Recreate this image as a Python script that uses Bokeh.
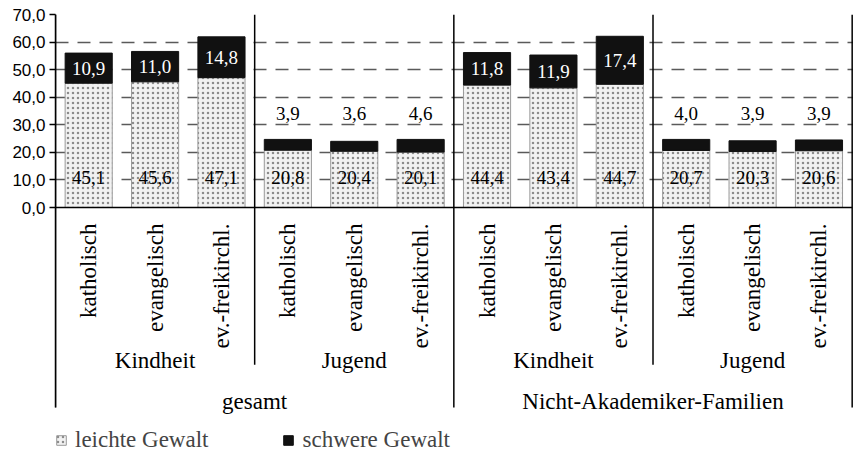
import numpy as np
from bokeh.plotting import figure
from bokeh.models import ColumnDataSource, FixedTicker, Legend, LegendItem
from bokeh.core.properties import value
from bokeh.embed import file_html
from bokeh.resources import INLINE

# ---------------- data ----------------
religion = ["katholisch", "evangelisch", "ev.-freikirchl."]
phases = ["Kindheit", "Jugend"]
samples = ["gesamt", "Nicht-Akademiker-Familien"]
leichte = [45.1, 45.6, 47.1, 20.8, 20.4, 20.1, 44.4, 43.4, 44.7, 20.7, 20.3, 20.6]
schwere = [10.9, 11.0, 14.8, 3.9, 3.6, 4.6, 11.8, 11.9, 17.4, 4.0, 3.9, 3.9]
y_ticks = [0, 10, 20, 30, 40, 50, 60, 70]
series = ["leichte Gewalt", "schwere Gewalt"]

# ---------------- layout helpers ----------------
SERIF = value("Liberation Serif")
n = len(leichte)
nr = len(religion)
n_ph = len(phases)
x = np.arange(n) + 0.5
fmt = lambda v: f"{v:.1f}".replace(".", ",")
lei = np.array(leichte)
sch = np.array(schwere)
total = lei + sch
big = sch >= 6

Y_LABEL_LOW = 11
Y_SMALL_TOP = 34
Y_CAT = -5.8
Y_PHASE = -55.5
Y_SAMPLE = -70.2
Y_INNER_END = -57.0
Y_OUTER_END = -72.5

src = ColumnDataSource(dict(
    x=x, lei=lei, tot=total,
    cat=[religion[i % nr] for i in range(n)],
    lab_l=[fmt(v) for v in lei],
    lab_s=[fmt(v) for v in sch],
    ys=np.where(big, lei + sch / 2, Y_SMALL_TOP),
    cs=np.where(big, "white", "black"),
    yl=np.full(n, Y_LABEL_LOW),
    yc=np.full(n, Y_CAT),
))

p = figure(width=853, height=456, output_backend="svg", toolbar_location=None,
           x_range=(0, n + 0.02), y_range=(-90.3, 70),
           x_axis_location=None, min_border_left=55, min_border_right=0,
           min_border_top=14, min_border_bottom=0)
p.outline_line_color = None
p.background_fill_color = "white"
p.xgrid.visible = False

# grid
p.ygrid.ticker = FixedTicker(ticks=y_ticks[1:-1])
p.ygrid.grid_line_color = "#5a5a5a"
p.ygrid.grid_line_dash = "13 9"
p.ygrid.grid_line_width = 1.5

# y axis
ax = p.yaxis[0]
ax.ticker = FixedTicker(ticks=y_ticks)
ax.major_label_overrides = {t: fmt(t) for t in y_ticks}
ax.major_label_text_font = "Liberation Sans"
ax.major_label_text_font_size = "17px"
ax.major_label_text_color = "black"
ax.major_tick_out = 6
ax.major_tick_in = 0
ax.minor_tick_line_color = None
ax.axis_line_width = 1.5
ax.major_tick_line_width = 1.5
ax.major_label_standoff = 4
ax.bounds = (Y_OUTER_END, y_ticks[-1])

# bars
r_l = p.vbar(x="x", top="lei", bottom=0, width=0.71, source=src,
             fill_color="#f2f2f2", line_color="#9a9a9a", line_width=1,
             hatch_pattern="dot", hatch_color="#8c8c8c", hatch_scale=5, hatch_weight=1)
r_s = p.vbar(x="x", top="tot", bottom="lei", width=0.71, source=src,
             fill_color="#111111", line_color="#111111")

# baseline
p.segment(x0=[0], x1=[n], y0=[0], y1=[0], line_color="black", line_width=1.5)

# separators
outer = [i * nr * n_ph for i in range(len(samples) + 1)]
inner = [i * nr * n_ph + nr for i in range(len(samples))]
p.segment(x0=outer, x1=outer, y0=[y_ticks[-1]] * len(outer), y1=[Y_OUTER_END] * len(outer),
          line_color="black", line_width=1.5)
p.segment(x0=inner, x1=inner, y0=[y_ticks[-1]] * len(inner), y1=[Y_INNER_END] * len(inner),
          line_color="black", line_width=1.5)

# value labels
p.text(x="x", y="yl", text="lab_l", source=src, text_font=SERIF, text_font_size="19px",
       text_align="center", text_baseline="middle", text_color="black")
p.text(x="x", y="ys", text="lab_s", source=src, text_font=SERIF, text_font_size="19px",
       text_align="center", text_baseline="middle", text_color="cs")

# category labels
p.text(x="x", y="yc", text="cat", source=src, angle=np.pi / 2, text_font=SERIF,
       text_font_size="23px", text_align="right", text_baseline="middle", text_color="black")

ph_x = [(i + 0.5) * nr for i in range(len(samples) * n_ph)]
ph_t = [phases[i % n_ph] for i in range(len(samples) * n_ph)]
p.text(x=ph_x, y=[Y_PHASE] * len(ph_x), text=ph_t, text_font=SERIF, text_font_size="23px",
       text_align="center", text_baseline="middle", text_color="black")
sa_x = [(i + 0.5) * nr * n_ph for i in range(len(samples))]
p.text(x=sa_x, y=[Y_SAMPLE] * len(sa_x), text=samples, text_font=SERIF, text_font_size="23px",
       text_align="center", text_baseline="middle", text_color="black")

# legend
legend = Legend(items=[LegendItem(label=series[0], renderers=[r_l]),
                       LegendItem(label=series[1], renderers=[r_s])],
                location=(0, 3), orientation="horizontal", padding=0, margin=0,
                spacing=74, glyph_width=12, glyph_height=12, label_standoff=8,
                label_text_font="Liberation Serif", label_text_font_size="23px",
                border_line_color=None, background_fill_alpha=0)
p.add_layout(legend)

open("out.html", "w").write(file_html(p, INLINE))
